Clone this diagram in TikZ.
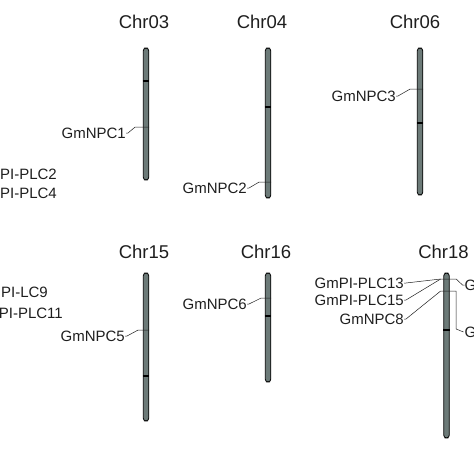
\documentclass[tikz,border=0pt]{standalone}
\usepackage{fontspec}
\setmainfont{Liberation Sans}
\usepackage{tikz}
\definecolor{chrgray}{RGB}{108,122,120}
\definecolor{inkgray}{RGB}{30,30,30}

\begin{document}
\begin{tikzpicture}[x=1pt, y=-1pt,
	every node/.style={text=inkgray, inner sep=0pt},
	chrom/.style={draw=black, line width=0.8pt, fill=chrgray, rounded corners=2.8pt, minimum width=5.5pt},
	chrname/.style={font=\fontsize{18.5}{20}\selectfont},
	gene/.style={font=\fontsize{15}{17}\selectfont, anchor=east},
	band/.style={line width=1.6pt, black},
	leader/.style={line width=0.5pt, inkgray}]
	\useasboundingbox (0,0) rectangle (474,474);
	\clip (0,0) rectangle (474,474);
	% chromosomes
	\node[chrom, minimum height=132pt] (c03) at (146,114) {};
	\node[chrom, minimum height=150pt] (c04) at (268,123) {};
	\node[chrom, minimum height=147pt] (c06) at (420,121.5) {};
	\node[chrom, minimum height=148pt] (c15) at (146,347) {};
	\node[chrom, minimum height=109pt] (c16) at (268,327.5) {};
	\node[chrom, minimum height=165pt] (c18) at (446.5,355.5) {};
	\node[chrname] (n03) at (144,22) {Chr03};
	\node[chrname] (n04) at (262,22) {Chr04};
	\node[chrname] (n06) at (415,22) {Chr06};
	\node[chrname] (n15) at (144,252) {Chr15};
	\node[chrname] (n16) at (266,252) {Chr16};
	\node[chrname] (n18) at (443.5,252) {Chr18};
	% centromeres
	\draw[band] (c03.west |- 0,81) -- (c03.east |- 0,81);
	\draw[band] (c04.west |- 0,107) -- (c04.east |- 0,107);
	\draw[band] (c06.west |- 0,123) -- (c06.east |- 0,123);
	\draw[band] (c15.west |- 0,376) -- (c15.east |- 0,376);
	\draw[band] (c16.west |- 0,316) -- (c16.east |- 0,316);
	\draw[band] (c18.west |- 0,330) -- (c18.east |- 0,330);
	% gene positions
	\coordinate (m1) at (c03.east |- 0,127);
	\coordinate (m2) at (c04.east |- 0,182);
	\coordinate (m3) at (c06.east |- 0,89);
	\coordinate (m5) at (c15.east |- 0,330);
	\coordinate (m6) at (c16.east |- 0,298);
	\coordinate (m13) at (c18.east |- 0,279);
	\coordinate (m8) at (c18.east |- 0,291);
	\node[gene] (npc1) at (126,133) {GmNPC1};
	\node[gene] (npc2) at (247,188) {GmNPC2};
	\node[gene] (npc3) at (396,96) {GmNPC3};
	\node[gene] (npc5) at (125,336) {GmNPC5};
	\node[gene] (npc6) at (247,304) {GmNPC6};
	\node[gene] (plc13) at (404,283) {GmPI-PLC13};
	\node[gene] (plc15) at (404,300) {GmPI-PLC15};
	\node[gene] (npc8) at (404,319) {GmNPC8};
	\node[gene, anchor=west] (rgt1) at (464.5,285) {G};
	\node[gene, anchor=west] (rgt2) at (464.5,332) {G};
	% genes of the chromosome cut off at the left
	\node[gene] (plc2) at (57,174) {GmPI-PLC2};
	\node[gene] (plc4) at (57,193) {GmPI-PLC4};
	\node[gene] (lc9) at (48,292) {GmPI-LC9};
	\node[gene] (plc11) at (63,313) {GmPI-PLC11};
	% leaders
	\draw[leader] (npc1.east) -- ++(2,0) -- ([xshift=-14pt]m1) -- (m1);
	\draw[leader] (npc2.east) -- ++(2,0) -- ([xshift=-12pt]m2) -- (m2);
	\draw[leader] (npc3.east) -- ++(2,0) -- ([xshift=-13pt]m3) -- (m3);
	\draw[leader] (npc5.east) -- ++(2,0) -- ([xshift=-11pt]m5) -- (m5);
	\draw[leader] (npc6.east) -- ++(2,0) -- ([xshift=-10pt]m6) -- (m6);
	\draw[leader] (plc13.east) -- ++(2,0) -- ([xshift=-9pt]m13) -- (m13);
	\draw[leader] (plc15.east) -- ++(2,0) -- ([xshift=-9pt]m13);
	\draw[leader] (npc8.east) -- ++(2,0) -- ([xshift=-9pt]m8) -- (m8);
	\draw[leader] (m13) -- ++(6.5,0) -- ([xshift=-2pt]rgt1.west) -- (rgt1.west);
	\draw[leader] (m8) -- ++(6.5,0) -- ++(0,38) -- ([xshift=-1pt]rgt2.west);
\end{tikzpicture}
\end{document}
